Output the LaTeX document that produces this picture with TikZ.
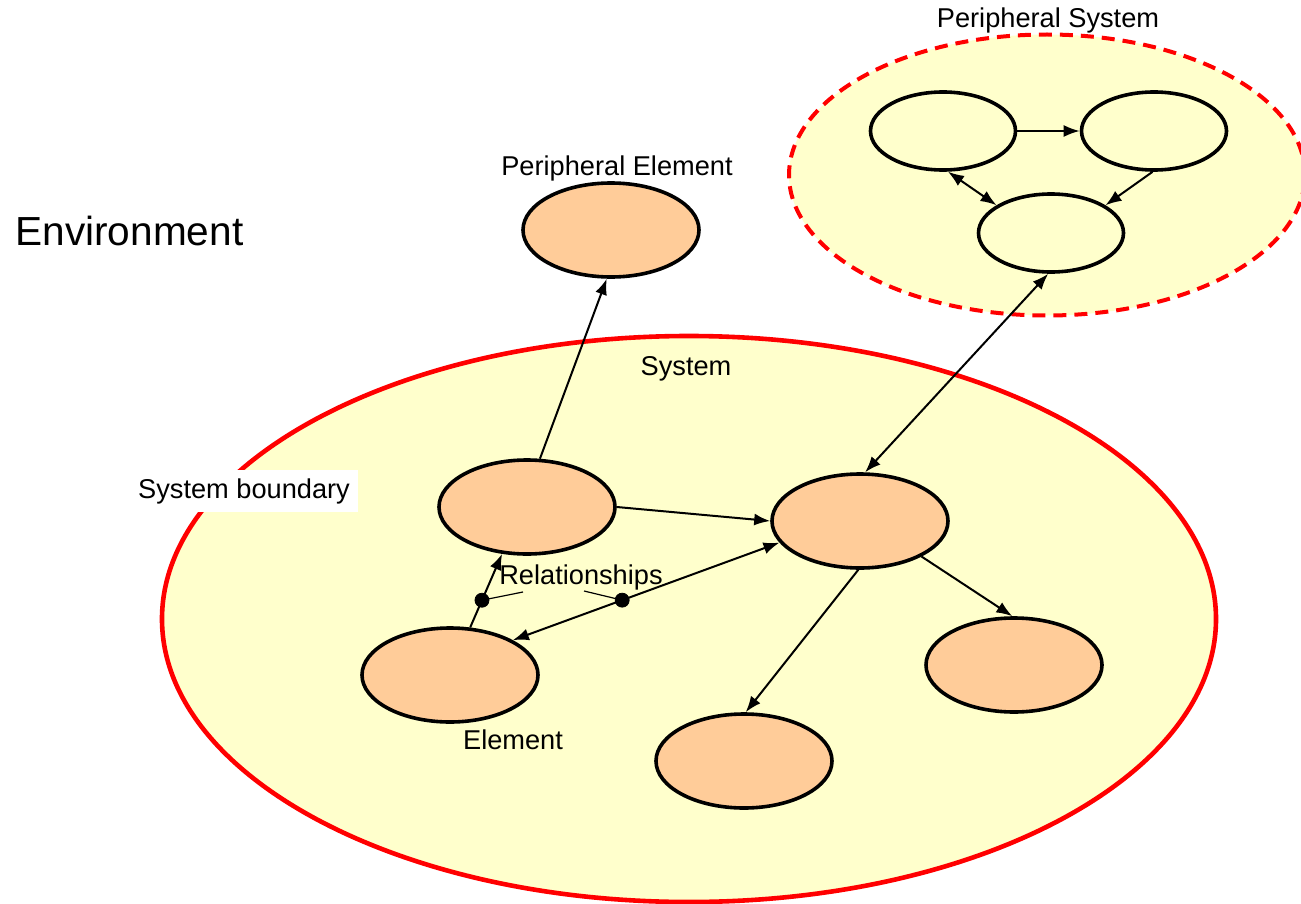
\documentclass[tikz,border=0pt]{standalone}
\usepackage{fontspec}
\setmainfont{Liberation Sans}
\usetikzlibrary{shapes.geometric,arrows.meta}
\definecolor{paleyellow}{HTML}{FFFFCC}
\definecolor{peach}{HTML}{FFCC99}
\tikzset{
  element/.style={ellipse,draw,line width=1.8pt,fill=peach,minimum width=88pt,minimum height=47pt,inner sep=0pt},
  subelement/.style={ellipse,draw,line width=1.8pt,fill=paleyellow,minimum width=72.5pt,minimum height=39pt,inner sep=0pt},
  lbl/.style={font=\fontsize{13.6}{16}\selectfont,inner sep=1pt},
  link/.style={line width=1pt}
}
\begin{document}
\begin{tikzpicture}[x=0.5pt,y=-0.5pt,>={Latex[length=8pt,width=6pt]}]
    \useasboundingbox[fill=white](0,0)rectangle(1301,904);

    \node[ellipse,draw=red,line width=2.3pt,fill=paleyellow,minimum width=527pt,minimum height=283pt](sys)at(689,619){};
    \node[ellipse,draw=red,dash pattern=on 6.5pt off 4pt,line width=2pt,fill=paleyellow,minimum width=258pt,minimum height=140.5pt](psys)at(1047,175){};

    \node[font=\fontsize{20.3}{24}\selectfont,anchor=west,inner sep=0pt](env)at(15,231){Environment};
    \node[lbl](psyslabel)at(1048,20){Peripheral System};
    \node[lbl](syslabel)at(686,369){System};
    \node[lbl,fill=white,inner sep=4pt](boundary)at(244,491){System boundary};
    \node[lbl](pelabel)at(617,168){Peripheral Element};

    \node[element](periph)at(611,230){};
    \node[element](elemA)at(527,507){};
    \node[element](elemB)at(860,521){};
    \node[element](elemC)at(450,675){};
    \node[element](elemD)at(1014,665){};
    \node[element](elemE)at(744,761){};

    \node[subelement](sub1)at(943,131){};
    \node[subelement](sub2)at(1154,131){};
    \node[subelement](sub3)at(1051,233){};

    \node[lbl](elemlabel)at(513,740){Element};
    \node[lbl,inner sep=0pt](rellabel)at(581,577){Relationships};

    \draw[link,->](elemA.75)--(periph.265);
    \draw[link,->](elemA.east)--(elemB.west);
    \draw[link,->](elemC.67)--(elemA.242)coordinate[pos=0.37](relA);
    \draw[link,<->](elemB.195)--(elemC.29)coordinate[pos=0.59](relB);
    \draw[link,->](elemB.268)--(elemE.88);
    \draw[link,->](elemB.330)--(elemD.92);
    \draw[link,<->](elemB.84)--(sub3.266);

    \draw[link,->](sub1.east)--(sub2.west);
    \draw[link,<->](sub1.277)--(sub3.153);
    \draw[link,->](sub2.268)--(sub3.27);

    \coordinate(callA)at(523,592);
    \coordinate(callB)at(584,591);
    \draw[line width=0.6pt](relA)--(callA);
    \draw[line width=0.6pt](relB)--(callB);
    \filldraw[black](relA)circle[radius=3.5pt];
    \filldraw[black](relB)circle[radius=3.5pt];
\end{tikzpicture}
\end{document}
